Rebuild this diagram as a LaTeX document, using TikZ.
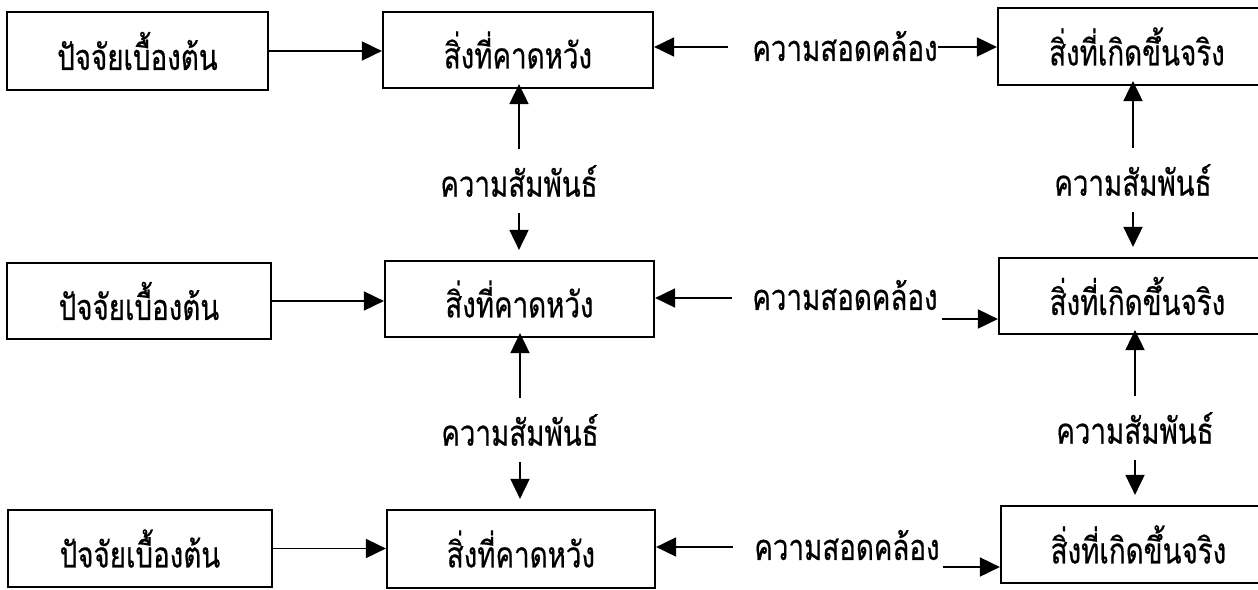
\documentclass[tikz,border=0pt]{standalone}
\usepackage{fontspec}
\newfontfamily\thaifont[Script=Thai,FakeStretch=0.77,FakeBold=0.5]{Loma}
\usetikzlibrary{arrows.meta}
\begin{document}
\begin{tikzpicture}[x=1pt,y=-1pt,
  box/.style={draw=black,line width=2.2pt,inner sep=0pt,align=center,font=\thaifont\fontsize{36}{40}\selectfont},
  lbl/.style={inner sep=0pt,font=\thaifont\fontsize{36}{40}\selectfont},
  rel/.style={lbl,minimum height=64pt},
  arr/.style={line width=1.8pt,-{Triangle[length=20pt,width=19pt]}}]
\useasboundingbox (0,0) rectangle (1258,589);
% left boxes
\node[box,minimum width=261pt,minimum height=78pt] (A1) at (137.5,51) {ปัจจัยเบื้องต้น};
\node[box,minimum width=264pt,minimum height=76pt] (A2) at (139,301) {ปัจจัยเบื้องต้น};
\node[box,minimum width=264pt,minimum height=77pt] (A3) at (140,548.5) {ปัจจัยเบื้องต้น};
% middle boxes
\node[box,minimum width=270pt,minimum height=76pt] (B1) at (518,50) {สิ่งที่คาดหวัง};
\node[box,minimum width=269pt,minimum height=76pt] (B2) at (519.5,299) {สิ่งที่คาดหวัง};
\node[box,minimum width=268pt,minimum height=78pt] (B3) at (521,549) {สิ่งที่คาดหวัง};
% right boxes
\node[box,minimum width=278pt,minimum height=77pt] (C1) at (1137,46.5) {สิ่งที่เกิดขึ้นจริง};
\node[box,minimum width=277pt,minimum height=76pt] (C2) at (1137.5,296) {สิ่งที่เกิดขึ้นจริง};
\node[box,minimum width=275pt,minimum height=77pt] (C3) at (1138.5,544.5) {สิ่งที่เกิดขึ้นจริง};
% congruence labels
\node[lbl] (S1) at (845,46) {ความสอดคล้อง};
\node[lbl] (S2) at (845,295) {ความสอดคล้อง};
\node[lbl] (S3) at (847,545) {ความสอดคล้อง};
\coordinate (S1l) at (728,47);
\coordinate (S1r) at (938,47);
\coordinate (S2l) at (732,298);
\coordinate (S2r) at (942,319);
\coordinate (S3l) at (733,547);
\coordinate (S3r) at (943,567);
% relation labels
\node[rel] (R1) at (519,181) {ความสัมพันธ์};
\node[rel] (R2) at (520,430) {ความสัมพันธ์};
\node[rel] (Q1) at (1133,180) {ความสัมพันธ์};
\node[rel] (Q2) at (1135,428) {ความสัมพันธ์};
% horizontal arrows left -> middle
\draw[arr] (A1.east) -- (A1.east -| B1.west);
\draw[arr] (A2.east) -- (A2.east -| B2.west);
\draw[arr] (A3.east) -- (A3.east -| B3.west);
% congruence arrows
\draw[arr] (S1l) -- (S1l -| B1.east);
\draw[arr] (S1r) -- (S1r -| C1.west);
\draw[arr] (S2l) -- (S2l -| B2.east);
\draw[arr] (S2r) -- (S2r -| C2.west);
\draw[arr] (S3l) -- (S3l -| B3.east);
\draw[arr] (S3r) -- (S3r -| C3.west);
% relation arrows, middle column
\draw[arr] (R1.north) -- ([yshift=5pt]R1.north |- B1.south);
\draw[arr] (R1.south) -- ([yshift=10pt]R1.south |- B2.north);
\draw[arr] (R2.north) -- ([yshift=5pt]R2.north |- B2.south);
\draw[arr] (R2.south) -- ([yshift=10pt]R2.south |- B3.north);
% relation arrows, right column
\draw[arr] (Q1.north) -- ([yshift=5pt]Q1.north |- C1.south);
\draw[arr] (Q1.south) -- ([yshift=10pt]Q1.south |- C2.north);
\draw[arr] (Q2.north) -- ([yshift=5pt]Q2.north |- C2.south);
\draw[arr] (Q2.south) -- ([yshift=10pt]Q2.south |- C3.north);
\end{tikzpicture}
\end{document}
